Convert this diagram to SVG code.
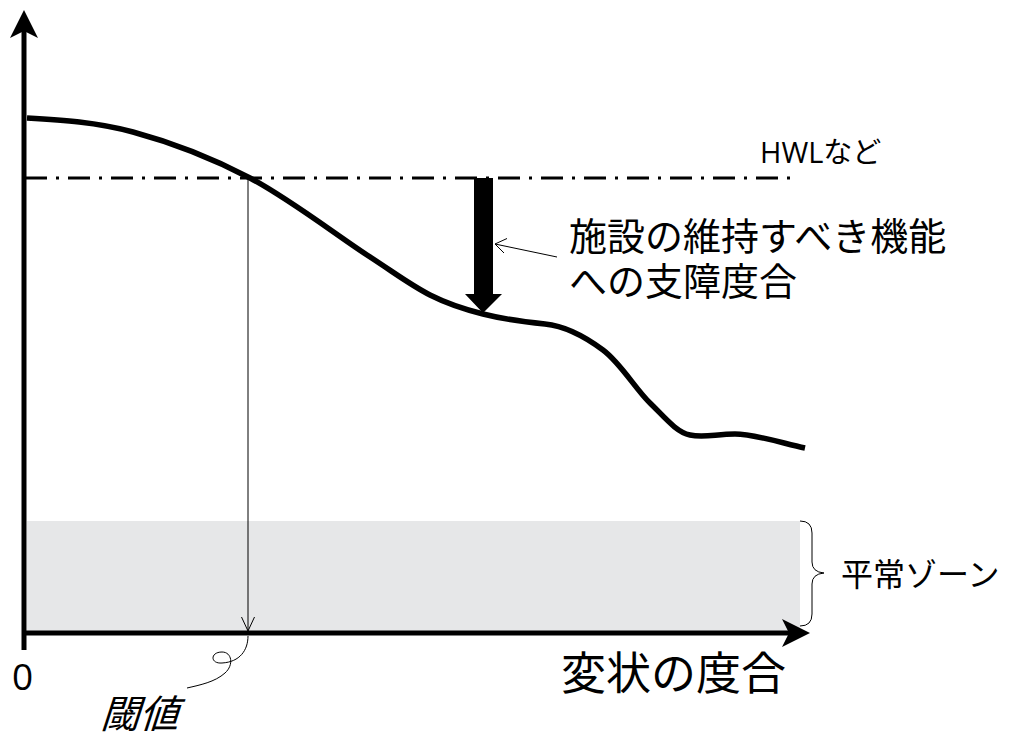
<svg xmlns="http://www.w3.org/2000/svg" width="1019" height="738" viewBox="0 0 1019 738">
  <style>
    .jp { font-family: "Noto Sans CJK JP", "Noto Sans", sans-serif; fill: #000; }
    .lat { font-family: "Open Sans", "Noto Sans CJK JP", sans-serif; fill: #000; }
    .thin { fill: none; stroke: #000; stroke-width: 1; }
  </style>
  <rect width="1019" height="738" fill="#fff"/>

  <g id="normal-zone">
    <rect x="27" y="521" width="773" height="110" fill="#e6e7e8"/>
    <path class="thin" d="M800,521 Q812,521 812,533 L812,562 Q812,572 824,573 Q812,574 812,584 L812,614 Q812,626 800,626"/>
    <text class="jp" x="841" y="586" font-size="32">平常ゾーン</text>
  </g>

  <g id="axes">
    <line x1="24" y1="30" x2="24" y2="650" stroke="#000" stroke-width="5"/>
    <polygon points="24,10 38,38 24,31 10,38" fill="#000"/>
    <line x1="22" y1="633" x2="792" y2="633" stroke="#000" stroke-width="5"/>
    <polygon points="810,633 782,647 789,633 782,619" fill="#000"/>
    <text class="lat" x="12" y="690" font-size="37">0</text>
    <text class="jp" x="561" y="690" font-size="45">変状の度合</text>
  </g>

  <g id="hwl">
    <line x1="25" y1="178" x2="792" y2="178" stroke="#000" stroke-width="3" stroke-dasharray="22 9 3 9"/>
    <text class="lat" x="760" y="163" font-size="29">HWLなど</text>
  </g>

  <g id="curve">
    <path fill="none" stroke="#000" stroke-width="5.5" stroke-linecap="butt" d="M27,118 C62,120 96,122 133,132 C170,142 211,157.5 250,178 C289,198.5 337,235.5 367,255 C397,274.5 410.7,285.2 430,295 C449.3,304.8 464,309.2 483,314 C502,318.8 525,322 545,324 C565,326 585.5,337 603,350 C620.5,363 635.5,389 650,403 C664.5,417 676,432 690,435 C704,438 716,434 735,434 C754,434 782,443 805,448"/>
  </g>

  <g id="impact">
    <polygon points="474,178 493,178 493,294 502,294 483,313 465,294 474,294" fill="#000"/>
    <text class="jp" font-size="38"><tspan x="569" y="250">施設の維持すべき機能</tspan><tspan x="569" y="295">への支障度合</tspan></text>
  </g>

  <g id="threshold">
    <text class="jp" x="0" y="0" font-size="39" transform="translate(100,728) skewX(-18)">閾値</text>
  </g>

  <g id="connectors">
    <line class="thin" x1="248" y1="178" x2="248" y2="631"/>
    <polyline class="thin" points="241.5,617 248,631 254.5,617"/>
    <path class="thin" d="M248,636 C248,650 240,662 222,663 C210,664 210,652 222,652 C232,652 234,665 225,673 C215,682 200,685 187,688"/>
    <line class="thin" x1="557" y1="257" x2="495" y2="244"/>
    <polyline class="thin" points="507,238.5 495,244 504,253"/>
  </g>
</svg>
